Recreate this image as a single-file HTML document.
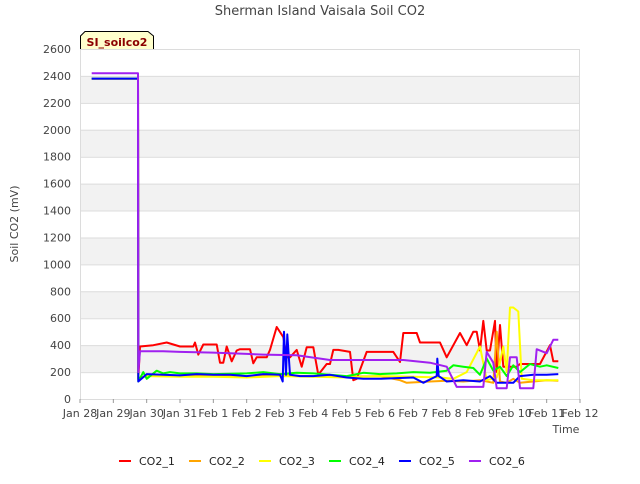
<!DOCTYPE html>
<html><head><meta charset="utf-8"><style>
body{margin:0;background:#fff;font-family:"DejaVu Sans","Liberation Sans",sans-serif;}
svg text{font-family:"DejaVu Sans","Liberation Sans",sans-serif;}
</style></head><body>
<svg id="c" width="640" height="480" xmlns="http://www.w3.org/2000/svg">
<rect width="640" height="480" fill="#fff"/>
<text x="320" y="15" text-anchor="middle" font-size="13" fill="#444">Sherman Island Vaisala Soil CO2</text>
<text transform="translate(18,224) rotate(-90)" text-anchor="middle" font-size="11" fill="#444">Soil CO2 (mV)</text>
<text x="566" y="433" text-anchor="middle" font-size="11" fill="#444">Time</text>
<g id="grid"></g><g id="series"></g><g id="axes"></g>
<g>
<path d="M80.5,49 L80.5,36 L85,31.5 L148,31.5 L153.5,36 L153.5,49" fill="#ffffcc" stroke="#000" stroke-width="1"/>
<text x="117" y="46" text-anchor="middle" font-size="11" font-weight="bold" fill="#8b0000">SI_soilco2</text>
</g>
<g id="legend"></g>
</svg>
<script>
const yTicks=[0,200,400,600,800,1000,1200,1400,1600,1800,2000,2200,2400,2600];
const xTickLabels=["Jan 28","Jan 29","Jan 30","Jan 31","Feb 1","Feb 2","Feb 3","Feb 4","Feb 5","Feb 6","Feb 7","Feb 8","Feb 9","Feb 10","Feb 11","Feb 12"];
const seriesNames=["CO2_1","CO2_2","CO2_3","CO2_4","CO2_5","CO2_6"];
const seriesColors=["#ff0000","#ffa500","#ffff00","#00ff00","#0000ff","#a020f0"];
// days since Jan 28 and values
const co2_1_t=[0.35,1.74,1.75,1.8,2.2,2.6,3.0,3.4,3.45,3.55,3.7,4.1,4.2,4.3,4.4,4.55,4.7,4.8,5.1,5.2,5.3,5.6,5.7,5.9,6.1,6.2,6.3,6.5,6.65,6.8,7.0,7.15,7.4,7.5,7.6,7.75,8.1,8.2,8.3,8.6,9.4,9.6,9.7,10.1,10.2,10.8,11.0,11.4,11.6,11.8,11.9,12.0,12.1,12.2,12.3,12.45,12.5,12.6,12.7,13.1,13.2,13.8,14.1,14.2,14.35];
const co2_1_v=[2380,2380,150,390,400,420,390,390,420,330,405,405,270,270,390,280,360,370,370,265,310,310,365,535,460,310,310,365,240,385,385,180,260,260,365,365,350,140,150,350,350,275,490,490,420,420,310,490,400,500,500,360,580,360,360,580,200,550,240,240,260,260,400,280,280];
const co2_2_t=[0.35,1.74,1.75,2.0,3.0,4.0,5.0,6.0,7.0,8.0,9.0,9.6,9.8,10.5,11.0,11.5,12.0,12.4,12.5,12.6,12.8,13.0,13.2,13.6,14.0,14.35];
const co2_2_v=[2380,2380,150,175,170,175,170,175,170,165,170,140,120,130,135,130,140,120,500,130,120,150,120,130,140,135];
const co2_3_t=[0.35,1.74,1.75,2.0,3.0,4.0,5.0,6.0,7.0,8.0,9.0,10.0,10.8,11.2,11.6,12.0,12.2,12.5,12.7,12.8,12.9,13.0,13.15,13.25,13.6,14.35];
const co2_3_v=[2380,2380,150,170,165,165,160,170,165,160,170,165,160,150,200,390,140,160,390,200,680,680,650,150,140,140];
const co2_4_t=[0.35,1.74,1.75,1.9,2.0,2.3,2.5,2.7,3.0,3.5,4.0,5.0,5.5,6.0,6.5,7.0,7.5,8.0,8.5,9.0,9.5,10.0,10.5,11.0,11.2,11.5,11.8,12.0,12.2,12.4,12.6,12.8,13.0,13.2,13.5,13.8,14.0,14.35];
const co2_4_v=[2380,2380,130,200,150,210,190,200,190,190,185,190,200,185,195,190,180,170,195,185,190,200,195,210,250,240,230,180,300,210,240,170,250,200,260,240,250,230];
const co2_5_t=[0.35,1.74,1.75,2.0,2.5,3.0,3.5,4.0,4.5,5.0,5.5,6.0,6.08,6.12,6.18,6.22,6.3,6.6,7.0,7.5,8.0,8.5,9.0,9.5,10.0,10.3,10.7,10.72,10.76,11.0,11.5,12.0,12.3,12.5,13.0,13.2,13.6,14.0,14.35];
const co2_5_v=[2380,2380,130,185,180,175,185,180,180,170,185,180,130,500,180,480,180,170,170,180,160,150,150,155,160,120,170,300,170,130,140,130,170,120,120,170,180,180,185];
const co2_6_t=[0.35,1.74,1.75,1.8,2.5,3.0,4.0,5.0,5.5,6.5,7.5,8.5,9.7,10.5,11.0,11.3,12.1,12.2,12.4,12.5,12.8,12.9,13.1,13.2,13.6,13.7,14.0,14.2,14.35];
const co2_6_v=[2420,2420,200,355,355,350,345,335,330,325,290,290,290,270,240,90,90,350,270,80,80,310,310,80,80,370,340,440,440];
const allT=[co2_1_t,co2_2_t,co2_3_t,co2_4_t,co2_5_t,co2_6_t];
const allV=[co2_1_v,co2_2_v,co2_3_v,co2_4_v,co2_5_v,co2_6_v];

const X0=80,X1=580,Y0=399,Y1=49,NS="http://www.w3.org/2000/svg";
const xs=d=>X0+d*(X1-X0)/15;
const ys=v=>Y0-v*(Y0-Y1)/2600;
function mk(tag,attrs,parent){const e=document.createElementNS(NS,tag);for(const k in attrs)e.setAttribute(k,attrs[k]);parent.appendChild(e);return e;}
const grid=document.getElementById('grid'),axes=document.getElementById('axes'),ser=document.getElementById('series'),leg=document.getElementById('legend');
for(let i=0;i<yTicks.length-1;i++){
  if(i%2===1){const r=mk('rect',{x:X0,y:ys(yTicks[i+1]),width:X1-X0,height:ys(yTicks[i])-ys(yTicks[i+1]),fill:'#f2f2f2'},grid);
  
  }
}
yTicks.forEach(v=>{
  const l=mk('line',{x1:X0,x2:X1,y1:ys(v)+0.5,y2:ys(v)+0.5,stroke:'#dcdcdc','stroke-width':1},grid);
  
  
  const t=mk('text',{x:X0-9,y:ys(v)+4,'text-anchor':'end','font-size':11,fill:'#444'},axes);
  t.textContent=v;
  
  
});
const fr=mk('rect',{x:X0+0.5,y:Y1+0.5,width:X1-X0-1,height:Y0-Y1,fill:'none',stroke:'#dcdcdc'},axes);


xTickLabels.forEach((s,i)=>{
  const tk=mk('line',{x1:xs(i),x2:xs(i),y1:Y0,y2:Y0+4,stroke:'#999'},axes);
  
  
  const t=mk('text',{x:xs(i),y:Y0+18,'text-anchor':'middle','font-size':11,fill:'#444'},axes);
  t.textContent=s;
  
  
});
allT.forEach((ts,si)=>{
  const pts=ts.map((t,i)=>xs(t).toFixed(1)+','+ys(allV[si][i]).toFixed(1)).join(' ');
  const p=mk('polyline',{points:pts,fill:'none',stroke:seriesColors[si],'stroke-width':2,'stroke-linejoin':'round'},ser);
  
  
});
seriesNames.forEach((n,i)=>{
  const g=mk('g',{},leg);
  
  
  const x=119+i*70;
  mk('line',{x1:x,x2:x+12,y1:461,y2:461,stroke:seriesColors[i],'stroke-width':2},g);
  const t=mk('text',{x:x+20,y:465,'font-size':11,fill:'#222'},g);
  t.textContent=n;
});
</script>
</body></html>
